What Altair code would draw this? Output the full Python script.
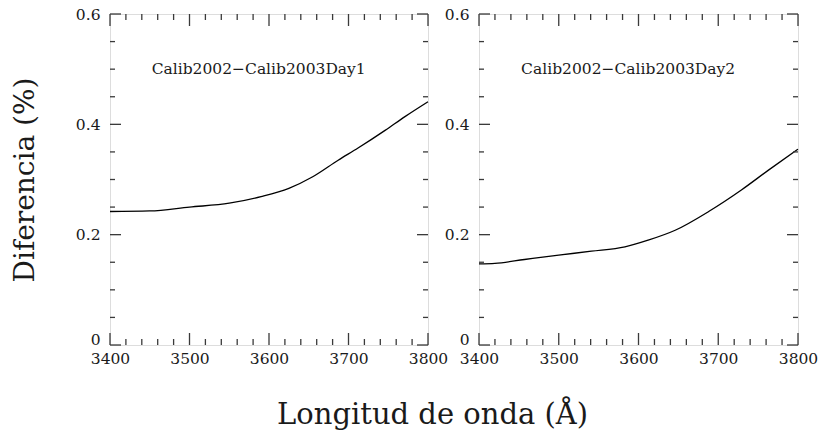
import altair as alt
import pandas as pd

# ---- data ----
wl_day1 = [3400, 3450, 3500, 3550, 3590, 3625, 3655, 3687, 3712, 3746, 3771, 3800]
diff_day1 = [0.242, 0.243, 0.250, 0.257, 0.269, 0.284, 0.305, 0.335, 0.357, 0.389, 0.414, 0.441]

wl_day2 = [3400, 3420, 3457, 3500, 3541, 3583, 3612, 3646, 3688, 3729, 3763, 3800]
diff_day2 = [0.147, 0.148, 0.155, 0.163, 0.170, 0.178, 0.190, 0.208, 0.242, 0.281, 0.317, 0.355]

panel_labels = ["Calib2002\u2212Calib2003Day1", "Calib2002\u2212Calib2003Day2"]
label_x = [3587, 3587]
label_y = [0.50, 0.50]

x_major = [3400, 3500, 3600, 3700, 3800]
x_minor = [3420, 3440, 3460, 3480, 3520, 3540, 3560, 3580,
           3620, 3640, 3660, 3680, 3720, 3740, 3760, 3780]
y_major = [0, 0.2, 0.4, 0.6]
y_minor = [0.05, 0.1, 0.15, 0.25, 0.3, 0.35, 0.45, 0.5, 0.55]

x_title = "Longitud de onda (\u00c5)"
y_title = "Diferencia (%)"

# ---- style ----
W1, W2, H = 318, 319, 331
FRAME = "#3a3a3a"
TXT = "#1a1a1a"
FONT = "DejaVu Serif"

xscale = alt.Scale(domain=[3400, 3800], nice=False, zero=False)
yscale = alt.Scale(domain=[0, 0.6], nice=False, zero=True)

xaxis = alt.Axis(values=x_major, tickSize=0, domain=False, grid=False,
                 labelFlush=False, labelPadding=6, labelFont=FONT,
                 labelFontSize=15.5, labelColor=TXT, format="d", title=None)
ybase = dict(values=y_major, tickSize=0, domain=False, grid=False,
             labelPadding=10, labelFont=FONT, labelFontSize=15.5,
             labelColor=TXT,
             labelOffset=alt.condition("datum.value == 0", alt.value(-6), alt.value(0)),
             labelExpr="datum.value == 0 ? '0' : format(datum.value, '.1f')")
yaxis_left = alt.Axis(**ybase, title=y_title, titleFont=FONT, titleFontSize=28,
                      titleFontWeight="normal", titleColor=TXT, titlePadding=36)
yaxis_right = alt.Axis(**ybase, title=None)


def panel(wl, diff, label, lx, ly, width, yaxis):
    X = lambda f: alt.X(f, scale=xscale, axis=xaxis)
    Y = lambda f: alt.Y(f, scale=yscale, axis=yaxis)
    layers = []

    df = pd.DataFrame({"wl": wl, "d": diff})
    layers.append(alt.Chart(df).mark_line(color="black", strokeWidth=1.3,
                                          interpolate="monotone").encode(
        x=X("wl:Q"), y=Y("d:Q")))

    tdf = pd.DataFrame({"wl": [lx], "d": [ly], "t": [label]})
    layers.append(alt.Chart(tdf).mark_text(font=FONT, fontSize=15.5, color=TXT,
                                           align="center", baseline="middle").encode(
        x=X("wl:Q"), y=Y("d:Q"), text="t:N"))

    for vals, ln in [(x_major, 12), (x_minor, 6)]:
        df = pd.DataFrame({"wl": vals})
        layers.append(alt.Chart(df).mark_rule(color=FRAME, strokeWidth=1.3).encode(
            x=X("wl:Q"), y=alt.value(H), y2=alt.value(H - ln)))
        layers.append(alt.Chart(df).mark_rule(color=FRAME, strokeWidth=1.3).encode(
            x=X("wl:Q"), y=alt.value(0), y2=alt.value(ln)))
    for vals, ln in [(y_major, 11), (y_minor, 5)]:
        df = pd.DataFrame({"d": vals})
        layers.append(alt.Chart(df).mark_rule(color=FRAME, strokeWidth=1.3).encode(
            y=Y("d:Q"), x=alt.value(0), x2=alt.value(ln)))
        layers.append(alt.Chart(df).mark_rule(color=FRAME, strokeWidth=1.3).encode(
            y=Y("d:Q"), x=alt.value(width), x2=alt.value(width - ln)))

    return alt.layer(*layers).properties(width=width, height=H)


left = panel(wl_day1, diff_day1, panel_labels[0], label_x[0], label_y[0], W1, yaxis_left)
right = panel(wl_day2, diff_day2, panel_labels[1], label_x[1], label_y[1], W2, yaxis_right)

chart = alt.hconcat(left, right, spacing=51, bounds="flush").properties(
    title=alt.TitleParams(x_title, orient="bottom", anchor="middle",
                          font=FONT, fontSize=29, fontWeight="normal",
                          color=TXT, offset=34, dx=18)
).configure_view(stroke=FRAME, strokeWidth=1.8).configure(
    padding={"left": 10, "top": 6, "right": 0, "bottom": 0},
    background="white")

chart.save("out.html", embed_options={"renderer": "svg", "actions": False})
